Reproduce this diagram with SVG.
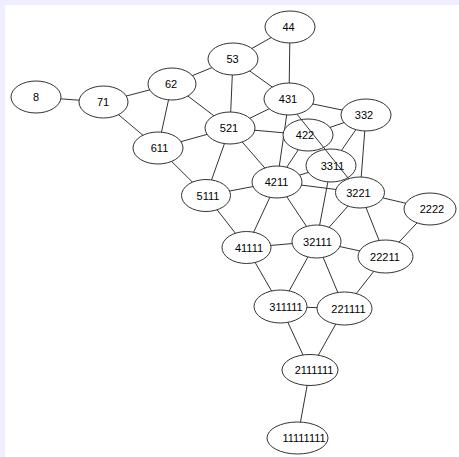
<svg xmlns="http://www.w3.org/2000/svg" width="459" height="457" viewBox="0 0 459 457">
<style>
.bg{fill:#eeeefe}
.paper{fill:#ffffff}
.edge{stroke:#333333;stroke-width:1;fill:none}
.node ellipse{fill:#ffffff;stroke:#333333;stroke-width:1}
.node text{font-family:"Liberation Sans",Arial,sans-serif;font-size:11px;fill:#000000;text-anchor:middle}
</style>
<rect class="bg" x="0" y="0" width="459" height="457"/>
<rect class="paper" x="5" y="5" width="454" height="452"/>
<g id="connectors">
<line class="edge" x1="36" y1="97" x2="103.5" y2="102"/>
<line class="edge" x1="103.5" y1="102" x2="172" y2="84"/>
<line class="edge" x1="103.5" y1="102" x2="158" y2="148"/>
<line class="edge" x1="172" y1="84" x2="233" y2="59"/>
<line class="edge" x1="172" y1="84" x2="158" y2="148"/>
<line class="edge" x1="172" y1="84" x2="230" y2="128"/>
<line class="edge" x1="233" y1="59" x2="290" y2="27"/>
<line class="edge" x1="233" y1="59" x2="230" y2="128"/>
<line class="edge" x1="233" y1="59" x2="289" y2="99"/>
<line class="edge" x1="290" y1="27" x2="289" y2="99"/>
<line class="edge" x1="158" y1="148" x2="230" y2="128"/>
<line class="edge" x1="158" y1="148" x2="206" y2="195.5"/>
<line class="edge" x1="230" y1="128" x2="289" y2="99"/>
<line class="edge" x1="230" y1="128" x2="308" y2="135"/>
<line class="edge" x1="230" y1="128" x2="206" y2="195.5"/>
<line class="edge" x1="230" y1="128" x2="277" y2="182"/>
<line class="edge" x1="289" y1="99" x2="366" y2="115"/>
<line class="edge" x1="289" y1="99" x2="277" y2="182"/>
<line class="edge" x1="366" y1="115" x2="308" y2="135"/>
<line class="edge" x1="366" y1="115" x2="331" y2="165.5"/>
<line class="edge" x1="366" y1="115" x2="360" y2="192.5"/>
<line class="edge" x1="308" y1="135" x2="277" y2="182"/>
<line class="edge" x1="331" y1="165.5" x2="277" y2="182"/>
<line class="edge" x1="331" y1="165.5" x2="316.5" y2="241.5"/>
<line class="edge" x1="277" y1="182" x2="206" y2="195.5"/>
<line class="edge" x1="277" y1="182" x2="360" y2="192.5"/>
<line class="edge" x1="277" y1="182" x2="246.5" y2="247.5"/>
<line class="edge" x1="277" y1="182" x2="316.5" y2="241.5"/>
<line class="edge" x1="206" y1="195.5" x2="246.5" y2="247.5"/>
<line class="edge" x1="360" y1="192.5" x2="430" y2="209"/>
<line class="edge" x1="360" y1="192.5" x2="316.5" y2="241.5"/>
<line class="edge" x1="360" y1="192.5" x2="385.5" y2="256.5"/>
<line class="edge" x1="430" y1="209" x2="385.5" y2="256.5"/>
<line class="edge" x1="246.5" y1="247.5" x2="316.5" y2="241.5"/>
<line class="edge" x1="246.5" y1="247.5" x2="280.5" y2="306.5"/>
<line class="edge" x1="316.5" y1="241.5" x2="385.5" y2="256.5"/>
<line class="edge" x1="316.5" y1="241.5" x2="280.5" y2="306.5"/>
<line class="edge" x1="316.5" y1="241.5" x2="344.5" y2="308.5"/>
<line class="edge" x1="385.5" y1="256.5" x2="344.5" y2="308.5"/>
<line class="edge" x1="280.5" y1="306.5" x2="344.5" y2="308.5"/>
<line class="edge" x1="280.5" y1="306.5" x2="310" y2="370"/>
<line class="edge" x1="344.5" y1="308.5" x2="310" y2="370"/>
<line class="edge" x1="310" y1="370" x2="297.5" y2="438"/>
</g>
<g id="nodes">
<g id="n8" class="node"><ellipse cx="36" cy="97" rx="25" ry="16"/><text x="36" y="101">8</text></g>
<g id="n71" class="node"><ellipse cx="103.5" cy="102" rx="24.5" ry="16"/><text x="103" y="106">71</text></g>
<g id="n62" class="node"><ellipse cx="172" cy="84" rx="24" ry="16"/><text x="171" y="88">62</text></g>
<g id="n611" class="node"><ellipse cx="158" cy="148" rx="25" ry="16"/><text x="159.5" y="152">611</text></g>
<g id="n5111" class="node"><ellipse cx="206" cy="195.5" rx="24.5" ry="16"/><text x="208" y="199.5">5111</text></g>
<g id="n53" class="node"><ellipse cx="233" cy="59" rx="25" ry="16"/><text x="232.5" y="63">53</text></g>
<g id="n521" class="node"><ellipse cx="230" cy="128" rx="25" ry="16"/><text x="229" y="132">521</text></g>
<g id="n44" class="node"><ellipse cx="290" cy="27" rx="25" ry="16"/><text x="288.5" y="31">44</text></g>
<g id="n431" class="node"><ellipse cx="289" cy="99" rx="25" ry="16"/><text x="288" y="103">431</text></g>
<g id="n332" class="node"><ellipse cx="366" cy="115" rx="25" ry="16"/><text x="364" y="119">332</text></g>
<g id="n422" class="node"><ellipse cx="308" cy="135" rx="25" ry="16"/><text x="305" y="139">422</text></g>
<g id="n3311" class="node"><ellipse cx="331" cy="165.5" rx="25" ry="16.5"/><text x="332.5" y="169.5">3311</text></g>
<g id="n4211" class="node"><ellipse cx="277" cy="182" rx="25" ry="16"/><text x="276.5" y="186">4211</text></g>
<g id="n3221" class="node"><ellipse cx="360" cy="192.5" rx="24.5" ry="15.5"/><text x="358.5" y="196.5">3221</text></g>
<g id="n2222" class="node"><ellipse cx="430" cy="209" rx="26" ry="16"/><text x="432" y="213">2222</text></g>
<g id="n41111" class="node"><ellipse cx="246.5" cy="247.5" rx="24.5" ry="16"/><text x="249" y="251.5">41111</text></g>
<g id="n32111" class="node"><ellipse cx="316.5" cy="241.5" rx="24.5" ry="16.5"/><text x="317.5" y="245.5">32111</text></g>
<g id="n22211" class="node"><ellipse cx="385.5" cy="256.5" rx="27.5" ry="16.5"/><text x="385" y="260.5">22211</text></g>
<g id="n311111" class="node"><ellipse cx="280.5" cy="306.5" rx="26.5" ry="16.5"/><text x="286" y="310.5">311111</text></g>
<g id="n221111" class="node"><ellipse cx="344.5" cy="308.5" rx="27.5" ry="16.5"/><text x="348.5" y="312.5">221111</text></g>
<g id="n2111111" class="node"><ellipse cx="310" cy="370" rx="28" ry="15.5"/><text x="314" y="374">2111111</text></g>
<g id="n11111111" class="node"><ellipse cx="297.5" cy="438" rx="30.5" ry="16"/><text x="304" y="442">11111111</text></g>
</g>
<g id="connectors-over">
<line class="edge" x1="297" y1="114.2" x2="348.6" y2="178.7"/>
</g>
</svg>
